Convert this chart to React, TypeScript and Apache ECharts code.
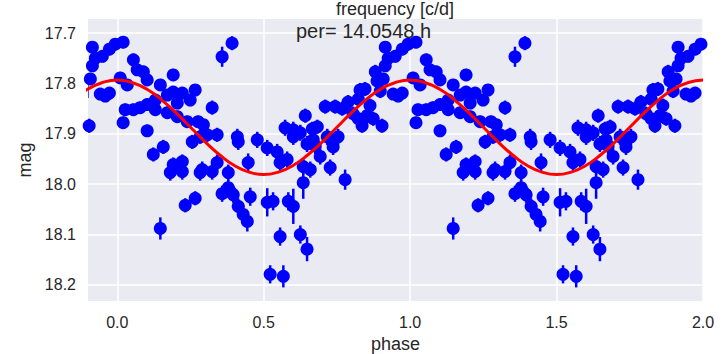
import React, { useEffect, useRef } from "react";
import * as echarts from "echarts";

// Folded light curve (phase in [0,1)); plotted at phase-1, phase, phase+1
const phases = [
  0.020, 0.010, 0.034, 0.027, 0.055, 0.020, 0.055, 0.068, 0.089, 0.078,
  0.102, 0.102, 0.102, 0.123, 0.130, 0.147, 0.130, 0.157, 0.147, 0.171,
  0.171, 0.191, 0.191, 0.181, 0.191, 0.205, 0.205, 0.222, 0.222, 0.222,
  0.232, 0.239, 0.249, 0.256, 0.266, 0.266, 0.276, 0.283, 0.283, 0.294,
  0.290, 0.307, 0.324, 0.324, 0.341, 0.341, 0.358, 0.358, 0.379, 0.379,
  0.386, 0.392, 0.396, 0.410, 0.413, 0.413, 0.430, 0.444, 0.447, 0.454,
  0.478, 0.512, 0.512, 0.522, 0.532, 0.546, 0.556, 0.556, 0.567, 0.573,
  0.580, 0.584, 0.601, 0.601, 0.601, 0.625, 0.625, 0.635, 0.635, 0.642,
  0.648, 0.648, 0.659, 0.666, 0.676, 0.683, 0.669, 0.693, 0.710, 0.717,
  0.727, 0.737, 0.744, 0.754, 0.768, 0.778, 0.788, 0.805, 0.823, 0.823,
  0.836, 0.829, 0.846, 0.853, 0.863, 0.874, 0.881, 0.887, 0.898, 0.904,
  0.915, 0.915, 0.942, 0.959, 0.949, 0.973, 0.973, 0.993, 0.925, 0.908,
];
const mags = [
  17.718, 17.789, 17.803, 17.852, 17.852, 17.878, 17.753, 17.773, 17.777, 17.848,
  17.793, 17.842, 17.894, 17.941, 17.833, 17.803, 17.852, 17.926, 18.088, 17.823,
  17.858, 17.783, 17.817, 17.977, 17.961, 17.839, 17.866, 17.819, 17.955, 17.975,
  18.042, 17.876, 17.833, 17.916, 17.813, 18.028, 17.876, 17.906, 17.977, 17.882,
  17.971, 17.902, 17.848, 17.975, 17.902, 17.957, 17.747, 18.019, 17.977, 18.007,
  18.015, 17.720, 18.021, 17.906, 17.916, 18.044, 18.060, 18.074, 17.957, 18.025,
  17.912, 17.928, 18.036, 18.179, 18.034, 17.936, 17.957, 18.104, 18.183, 17.888,
  17.951, 18.034, 17.892, 17.906, 18.044, 17.898, 18.100, 17.965, 17.997, 17.864,
  17.920, 18.129, 17.971, 17.890, 17.924, 17.886, 17.912, 17.945, 17.846, 17.906,
  17.967, 17.926, 17.846, 17.906, 17.850, 17.991, 17.837, 17.860, 17.831, 17.870,
  17.884, 17.813, 17.811, 17.864, 17.844, 17.870, 17.777, 17.795, 17.815, 17.884,
  17.728, 17.765, 17.821, 17.825, 17.746, 17.732, 17.819, 17.722, 17.750, 17.791,
];
const errs = [
  0.012, 0.012, 0.012, 0.012, 0.012, 0.012, 0.012, 0.012, 0.012, 0.012,
  0.012, 0.012, 0.012, 0.014, 0.012, 0.012, 0.012, 0.014, 0.022, 0.012,
  0.012, 0.012, 0.012, 0.016, 0.014, 0.012, 0.012, 0.012, 0.014, 0.016,
  0.014, 0.012, 0.012, 0.014, 0.012, 0.014, 0.012, 0.014, 0.016, 0.012,
  0.016, 0.014, 0.014, 0.016, 0.014, 0.016, 0.020, 0.016, 0.016, 0.016,
  0.016, 0.014, 0.016, 0.016, 0.016, 0.016, 0.018, 0.020, 0.018, 0.018,
  0.016, 0.016, 0.028, 0.018, 0.018, 0.016, 0.016, 0.018, 0.022, 0.016,
  0.016, 0.018, 0.016, 0.016, 0.035, 0.016, 0.018, 0.016, 0.032, 0.014,
  0.016, 0.024, 0.016, 0.014, 0.016, 0.014, 0.016, 0.016, 0.014, 0.016,
  0.016, 0.016, 0.014, 0.016, 0.014, 0.020, 0.014, 0.014, 0.014, 0.014,
  0.014, 0.014, 0.014, 0.014, 0.014, 0.014, 0.014, 0.014, 0.014, 0.014,
  0.012, 0.012, 0.012, 0.012, 0.012, 0.012, 0.012, 0.012, 0.012, 0.012,
];

// Fitted model curve, one cycle
const curvePhases = [
  0.0, 0.05, 0.1, 0.15, 0.2, 0.25, 0.3, 0.35, 0.4, 0.45, 0.5,
  0.55, 0.6, 0.65, 0.7, 0.75, 0.8, 0.85, 0.9, 0.95, 1.0,
];
const curveMags = [
  17.793, 17.798, 17.811, 17.832, 17.858, 17.887, 17.916, 17.942, 17.963, 17.976, 17.981,
  17.976, 17.963, 17.942, 17.916, 17.887, 17.858, 17.832, 17.811, 17.798, 17.793,
];

const cycleOffsets = [-1, 0, 1];
const xTicks = [0, 0.5, 1, 1.5, 2];
const yTicks = [17.7, 17.8, 17.9, 18.0, 18.1, 18.2];

const titleText = "frequency [c/d]";
const periodText = "per= 14.0548 h";
const xName = "phase";
const yName = "mag";

const FONT = "'Liberation Sans', Arial, Helvetica, sans-serif";
const TEXT = "#262626";

export default function App() {
  const ref = useRef<HTMLDivElement>(null);

  useEffect(() => {
    if (!ref.current) return;
    const chart = echarts.init(ref.current, undefined, { renderer: "svg" });

    const points: number[][] = [];
    cycleOffsets.forEach((k) => {
      phases.forEach((p, i) => points.push([p + k, mags[i], errs[i]]));
    });
    const curve: number[][] = [];
    cycleOffsets.forEach((k, ci) => {
      curvePhases.forEach((p, i) => {
        if (ci > 0 && i === 0) return;
        curve.push([p + k, curveMags[i]]);
      });
    });

    chart.setOption({
      animation: false,
      backgroundColor: "#ffffff",
      textStyle: { fontFamily: FONT },
      grid: {
        left: 88,
        right: 19,
        top: 19,
        bottom: 53,
        show: true,
        backgroundColor: "#EAEAF2",
        borderWidth: 0,
        containLabel: false,
        outerBoundsMode: "none",
      },
      xAxis: {
        type: "value",
        min: -0.1,
        max: 2.0,
        name: xName,
        nameLocation: "middle",
        nameGap: 33,
        nameTextStyle: { fontSize: 18, color: TEXT, fontFamily: FONT },
        axisLine: { show: false },
        axisTick: { show: false, customValues: xTicks },
        axisLabel: {
          customValues: xTicks,
          formatter: (v: number) => v.toFixed(1),
          fontSize: 16,
          color: TEXT,
          margin: 13,
          fontFamily: FONT,
        },
        splitLine: { show: true, lineStyle: { color: "#ffffff", width: 1.5 } },
      },
      yAxis: {
        type: "value",
        inverse: true,
        min: 17.672,
        max: 18.232,
        name: yName,
        nameLocation: "middle",
        nameGap: 52,
        nameTextStyle: { fontSize: 18, color: TEXT, fontFamily: FONT },
        axisLine: { show: false },
        axisTick: { show: false, customValues: yTicks },
        axisLabel: {
          customValues: yTicks,
          formatter: (v: number) => v.toFixed(1),
          fontSize: 16,
          color: TEXT,
          margin: 12,
          fontFamily: FONT,
        },
        splitLine: { show: true, lineStyle: { color: "#ffffff", width: 1.5 } },
      },
      series: [
        {
          type: "custom",
          clip: true,
          data: points,
          encode: { x: 0, y: 1 },
          renderItem: (params: any, api: any) => {
            const x = api.value(0);
            const y = api.value(1);
            const e = api.value(2);
            const a = api.coord([x, y - e]);
            const b = api.coord([x, y + e]);
            return {
              type: "line",
              shape: { x1: a[0], y1: a[1], x2: b[0], y2: b[1] },
              style: { stroke: "#0000FF", lineWidth: 2.5 },
            };
          },
          z: 2,
        },
        {
          type: "scatter",
          data: points,
          symbol: "circle",
          symbolSize: 13,
          itemStyle: { color: "#0000FF", opacity: 1 },
          clip: true,
          z: 3,
        },
        {
          type: "line",
          data: curve,
          smooth: true,
          showSymbol: false,
          symbol: "none",
          lineStyle: { color: "#FF0000", width: 3 },
          clip: true,
          z: 4,
        },
      ],
      graphic: [
        {
          type: "text",
          left: 296,
          top: 21,
          style: {
            text: periodText,
            font: `20px ${FONT}`,
            fill: TEXT,
          },
          z: 10,
        },
        {
          type: "text",
          x: 395,
          y: 0,
          style: {
            text: titleText,
            font: `18px ${FONT}`,
            fill: TEXT,
            align: "center",
            verticalAlign: "top",
          },
          z: 10,
        },
      ],
    });

    return () => chart.dispose();
  }, []);

  return (
    <div
      ref={ref}
      style={{ position: "fixed", left: 0, top: 0, width: 722, height: 354 }}
    />
  );
}
